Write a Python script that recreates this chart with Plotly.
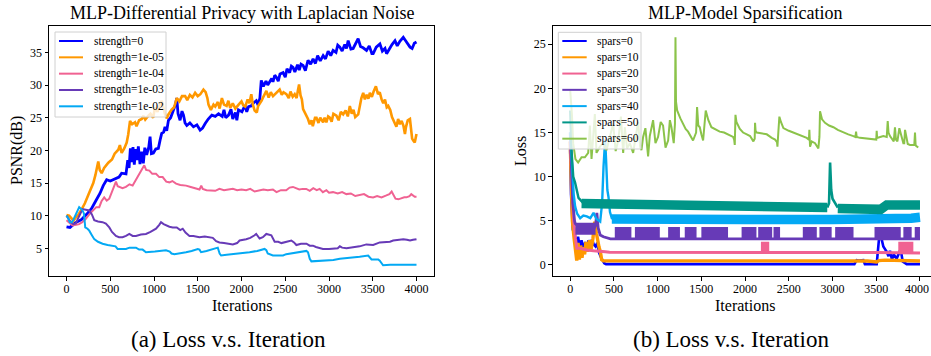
import plotly.graph_objects as go

# ---------------- Left panel data: PSNR(dB) vs Iterations ----------------
s0_x = [0,40,100,172,230,287,340,382,420,459,500,554,600,630,680,700,715,730,745,760,775,790,805,821,840,860,878,895,916,940,955,970,993,1020,1050,1070,1088,1110,1126,1145,1165,1190,1222,1245,1260,1275,1298,1320,1337,1355,1375,1410,1451,1490,1527,1555,1585,1620,1661,1700,1738,1780,1800,1820,1852,1880,1900,1930,1947,1965,2005,2040,2060,2081,2110,2140,2169,2190,2210,2226,2250,2280,2300,2322,2345,2360,2380,2398,2420,2440,2475,2500,2520,2550,2570,2589,2610,2640,2660,2680,2704,2730,2760,2790,2818,2845,2870,2900,2933,2960,2990,3020,3047,3080,3100,3124,3150,3180,3200,3219,3250,3276,3300,3333,3360,3390,3429,3460,3490,3505,3540,3582,3610,3640,3658,3690,3720,3754,3780,3810,3849,3870,3900,3926,3950,3975,4000]
s0_y = [8.3,8.2,8.9,9.4,10.2,11.1,12.4,13.4,14.6,15.5,15.3,15.6,15.9,16.5,16.4,18.5,17.3,20.3,18.2,20.5,17.8,20.2,18.5,20.6,17.9,19.8,18.0,20.4,19.3,20.5,22.1,19.5,19.6,20.2,20.3,21.6,22.6,22.8,23.6,23.0,24.6,25.0,26.2,27.0,28.0,25.6,24.6,26.0,25.4,24.2,23.8,24.2,23.6,23.9,23.1,23.4,24.1,24.8,25.4,25.2,25.6,25.2,26.2,25.0,25.4,26.3,24.8,25.8,24.6,26.2,25.9,26.9,25.9,26.7,26.8,27.3,27.6,26.9,28.0,30.7,29.8,30.6,30.0,30.4,31.0,30.5,31.5,31.2,30.6,31.7,31.9,31.2,32.5,31.9,32.9,32.7,32.0,33.1,32.3,33.2,33.0,32.2,33.8,33.2,34.0,33.3,34.5,33.7,34.5,34.0,35.2,34.5,35.3,35.0,36.1,35.8,35.2,36.2,35.6,36.8,35.5,35.6,36.3,37.1,35.9,35.7,35.3,36.0,34.8,34.8,35.8,36.3,35.2,35.6,34.8,35.6,36.2,36.8,36.0,36.7,37.3,36.9,36.4,35.8,35.6,36.4,36.6]

s1_x = [0,30,57,80,110,134,170,210,250,280,306,330,348,363,380,402,430,478,520,550,592,610,630,660,688,705,726,750,783,800,830,860,878,900,936,960,990,1012,1040,1060,1088,1100,1126,1145,1165,1200,1230,1260,1290,1320,1356,1380,1410,1440,1470,1500,1530,1565,1590,1610,1623,1650,1680,1700,1730,1750,1776,1800,1830,1850,1871,1900,1930,1967,2000,2020,2043,2070,2090,2112,2130,2150,2175,2190,2207,2230,2250,2284,2310,2335,2360,2390,2410,2436,2460,2480,2513,2540,2560,2585,2608,2630,2645,2658,2675,2690,2704,2720,2740,2760,2780,2800,2815,2840,2857,2880,2900,2933,2950,2970,2990,3009,3030,3050,3085,3110,3135,3162,3190,3215,3238,3260,3280,3300,3334,3350,3370,3391,3410,3430,3450,3467,3490,3510,3536,3560,3580,3601,3620,3640,3660,3677,3700,3720,3735,3754,3770,3790,3810,3830,3850,3868,3880,3900,3925,3940,3950,3963,3980,4000]
s1_y = [10.1,10.0,9.6,9.2,9.8,10.1,10.9,11.9,13.2,14.2,15.0,16.2,17.5,18.3,17.0,16.5,17.3,18.1,18.6,19.5,20.1,20.8,19.6,20.3,21.2,22.4,24.5,24.0,24.3,23.7,24.6,24.8,25.3,24.7,25.3,25.6,25.0,26.6,25.9,26.8,27.6,26.9,25.5,24.9,25.5,26.2,26.6,28.0,27.5,28.3,28.3,27.7,28.5,28.1,28.8,28.3,28.6,29.3,28.9,28.0,27.0,26.2,27.0,26.7,27.4,26.4,28.0,27.0,26.8,27.6,26.5,27.2,26.4,27.0,27.5,26.9,26.7,27.8,27.2,28.6,27.0,26.1,25.8,26.8,27.1,27.6,28.2,29.1,28.1,28.9,28.3,28.7,29.0,29.3,28.5,28.9,28.6,28.0,29.0,28.2,28.6,28.0,29.2,30.1,28.4,27.8,26.3,25.9,25.2,24.8,24.0,24.6,23.7,25.0,25.0,24.2,25.0,24.3,25.0,24.3,25.2,25.0,24.4,25.6,25.3,24.6,25.9,25.5,26.1,25.2,26.8,25.6,26.2,25.1,25.5,26.8,28.0,28.8,27.8,28.5,27.9,28.8,28.2,29.0,29.8,28.6,28.9,27.8,27.2,27.8,26.6,26.8,26.2,25.1,24.6,24.0,23.6,24.8,24.0,24.5,23.8,22.5,23.6,24.6,24.8,23.0,21.8,21.5,21.2,22.5]

s2_x = [0,40,69,110,145,180,221,260,298,340,374,400,431,460,489,510,527,550,565,585,603,640,679,720,756,790,832,860,889,910,947,980,1023,1060,1099,1140,1176,1210,1252,1300,1366,1420,1481,1520,1540,1557,1600,1634,1700,1748,1800,1850,1901,1950,2000,2053,2100,2150,2206,2250,2300,2359,2400,2450,2511,2550,2588,2620,2660,2700,2740,2780,2820,2860,2893,2930,2970,3000,3046,3100,3150,3198,3250,3300,3351,3400,3450,3504,3550,3600,3656,3690,3716,3740,3760,3792,3830,3860,3885,3920,3940,3962,3980,4000]
s2_y = [9.3,8.9,8.5,8.6,8.7,9.0,9.5,10.2,10.8,11.3,11.3,12.2,12.8,12.3,12.6,13.3,13.9,14.8,15.2,14.5,14.4,14.2,14.4,14.8,14.6,15.4,16.4,16.9,17.7,17.0,16.9,16.4,16.4,15.9,15.9,15.2,15.1,15.3,14.9,14.7,14.6,14.4,14.1,14.0,14.6,14.1,13.9,13.9,13.8,14.1,13.9,14.0,14.1,13.9,14.0,13.9,14.1,13.7,13.9,14.0,13.9,14.0,13.6,13.9,13.9,14.3,14.4,14.2,14.0,14.1,14.1,13.8,14.2,13.9,14.1,13.6,13.9,13.5,13.6,13.4,13.6,13.3,13.4,13.0,13.1,13.3,12.9,12.8,13.0,12.8,13.1,13.3,13.7,13.0,12.6,12.5,12.7,12.8,12.8,13.0,13.3,13.1,12.9,12.9]

s3_x = [0,25,50,80,107,140,183,220,260,290,317,360,412,450,489,520,565,600,641,680,718,756,794,850,908,960,1023,1060,1080,1110,1137,1176,1214,1260,1300,1328,1360,1405,1450,1519,1580,1640,1672,1710,1748,1800,1850,1901,1950,1978,2053,2100,2150,2168,2207,2244,2284,2321,2341,2379,2420,2456,2500,2540,2570,2600,2627,2680,2742,2780,2817,2850,2895,2931,3000,3046,3100,3124,3150,3200,3275,3350,3427,3505,3580,3650,3697,3733,3800,3849,3890,3926,3960,4000]
s3_y = [10.0,9.4,9.0,8.7,8.8,9.8,11.0,10.9,10.8,10.2,9.3,9.1,9.0,8.8,8.2,7.5,6.9,6.7,6.7,6.9,7.2,6.9,6.9,7.1,7.2,7.5,8.0,8.6,9.0,8.7,8.5,8.3,8.2,8.2,7.8,8.0,7.4,6.9,6.9,6.7,6.8,6.7,6.6,6.1,5.9,5.8,5.7,5.6,5.8,6.2,6.4,6.6,7.0,7.2,6.5,6.7,7.2,7.1,7.0,6.0,6.0,5.8,6.0,6.1,6.2,5.9,5.5,5.7,5.7,5.4,5.4,5.2,5.0,4.9,4.9,4.9,5.0,5.3,5.1,5.0,5.1,5.3,5.6,5.5,5.9,6.0,6.0,6.2,6.3,6.4,6.3,6.2,6.3,6.4]

s4_x = [0,20,38,60,76,110,145,170,183,200,214,240,260,290,317,360,412,470,527,560,584,630,679,720,760,794,830,870,908,960,1010,1061,1100,1137,1180,1200,1233,1300,1366,1430,1500,1520,1538,1600,1650,1700,1729,1750,1767,1830,1901,2000,2092,2180,2263,2284,2300,2359,2420,2475,2511,2600,2664,2700,2742,2760,2780,2799,2900,2969,3050,3124,3237,3350,3448,3470,3486,3520,3563,3580,3601,3618,3700,3809,3900,4000]
s4_y = [10.0,9.6,9.0,9.0,9.3,10.2,11.3,11.0,10.8,10.3,8.2,8.0,7.7,7.0,6.4,6.0,5.7,5.5,5.4,5.3,4.9,4.9,4.9,5.1,5.1,5.1,4.8,4.8,4.4,4.4,4.5,4.6,4.6,4.7,4.5,4.2,4.1,4.2,4.4,4.6,4.9,4.8,4.4,4.6,4.8,5.0,5.1,4.2,3.9,4.0,4.1,4.2,4.4,4.6,4.9,4.7,4.2,3.9,3.9,3.9,4.1,4.3,4.4,4.5,4.6,4.4,3.4,3.0,3.1,3.1,3.2,3.4,3.5,3.7,3.9,3.6,3.3,3.3,3.3,3.1,2.6,2.4,2.5,2.5,2.5,2.5]

left_names = ["strength=0", "strength=1e-05", "strength=1e-04", "strength=1e-03", "strength=1e-02"]
left_colors = ["#0000FF", "#FF9800", "#F06292", "#673AB7", "#03A9F4"]
left_widths = [2.8, 2.6, 2.0, 2.0, 2.0]
left_series = [(s0_x, s0_y), (s1_x, s1_y), (s2_x, s2_y), (s3_x, s3_y), (s4_x, s4_y)]

# ---------------- Right panel data: Loss vs Iterations ----------------
p0_x = [0,10,30,50,70,90,110,130,150,170,190,210,230,250,270,290,310,330,350,370,390,410,430,500,1000,1500,2000,2500,3000,3250,3276,3300,3352,3370,3505,3520,3543,3560,3581,3600,3619,3640,3657,3680,3700,3733,3760,3779,3802,3848,3900,4000]
p0_y = [13,8,4,3.6,2.2,3.2,2.0,2.8,1.5,2.6,1.8,2.8,2.2,2.9,2.3,2.1,2.5,1.4,0.9,0.6,0.2,0.1,0.1,0.1,0.08,0.1,0.08,0.1,0.08,0.1,0.55,0.5,0.55,0.1,0.1,2.0,4.2,3.0,2.1,1.8,1.5,1.0,1.6,0.6,1.2,0.7,1.4,1.8,0.4,0.1,0.1,0.1]

p1_x = [0,10,25,45,60,75,90,105,120,135,150,165,180,200,220,240,260,280,300,315,330,345,360,380,400,500,1000,1500,2000,2500,3000,3400,3505,3530,3600,4000]
p1_y = [14,9,5,3,1.5,0.5,2.5,0.6,2.2,0.8,2.0,1.2,2.6,1.5,2.8,1.8,3.0,4.9,3.6,2.5,2.0,1.5,0.6,0.47,0.47,0.47,0.5,0.47,0.5,0.47,0.47,0.45,0.35,0.5,0.55,0.45]

p2_x = [0,20,40,60,76,114,190,267,343,400,450,1000,2000,3000,3500,4000]
p2_y = [14,9,5,3,1.9,1.9,1.7,1.6,1.5,1.5,1.45,1.45,1.45,1.45,1.4,1.35]
p2_blk_start = [2181, 3752]
p2_blk_end = [2276, 3924]
p2_blk_level = [2.0, 2.0]

p3_x = [0,15,30,50,57,100,150,200,267,290,305,320,343,380,420,460,500,4000]
p3_y = [15,11,7,5,4.7,4.3,4.2,4.0,4.0,4.5,5.9,4.2,3.4,3.2,3.1,2.95,2.95,2.95]
p3_blk_start = [60, 510, 740, 1120, 1310, 1500, 1960, 2150, 2325, 2660, 2850, 3030, 3480, 3810, 3940]
p3_blk_end = [290, 700, 1025, 1255, 1445, 1805, 2130, 2310, 2400, 2820, 2990, 3240, 3780, 3905, 4000]
p3_blk_level = [4.1, 3.62, 3.62, 3.62, 3.62, 3.62, 3.62, 3.62, 3.62, 3.62, 3.62, 3.62, 3.62, 3.62, 3.62]

p4_x = [0,20,40,57,80,114,150,190,230,267,300,343,365,381,392,400,410,425,438,455,476,520]
p4_y = [15,11,8,6.6,5.8,5.3,5.6,5.5,5.3,5.9,5.2,4.9,7,11.1,13.5,14.2,12,8.5,7.7,6,5.3,5.2]
p4_band_x = [476,1000,2000,3000,3600,3900,4000]
p4_band_y = [5.2,5.1,5.15,5.15,5.1,5.3,5.4]

p5_x = [0,15,35,57,95,150]
p5_y = [17.5,13,10,9.3,7.6,7.0]
p5_spike_x = [2940,2960,2972,2985,3000,3030,3060]
p5_spike_y = [6.5,7.0,11.6,8.5,7.5,7.0,6.5]
p5_band_x = [130,400,1000,2000,2940,None,3060,3300,3550,3620,4000]
p5_band_y = [6.95,6.9,6.8,6.7,6.5,None,6.4,6.3,6.3,6.8,6.8]

p6_x = [0,20,34,60,91,130,168,206,225,244,282,301,340,377,415,450,491,520,549,580,606,625,650,682,720,750,777,800,815,834,860,891,910,948,975,1005,1035,1062,1090,1120,1140,1158,1184,1198,1204,1210,1223,1260,1291,1320,1348,1380,1405,1440,1451,1465,1482,1500,1520,1550,1580,1615,1660,1710,1760,1825,1863,1875,1882,1890,1901,1940,1977,2020,2057,2095,2110,2114,2120,2133,2180,2248,2305,2343,2365,2370,2380,2392,2410,2438,2500,2552,2610,2660,2705,2730,2735,2743,2762,2800,2838,2850,2857,2880,2914,2960,3010,3060,3124,3180,3238,3262,3269,3276,3314,3400,3467,3500,3505,3510,3545,3581,3620,3631,3640,3657,3700,3714,3725,3733,3742,3764,3800,3810,3820,3829,3860,3886,3935,3943,3950,3955,3980,4000]
p6_y = [19.8,17.0,13.8,12.0,11.6,12.2,12.2,12.7,15.8,12.0,17.1,12.7,13.4,13.8,13.0,14.5,16.0,12.9,14.1,16.8,12.7,15.6,13.2,13.8,12.7,14.6,16.2,13.4,13.0,14.5,15.5,12.3,14.6,16.4,13.8,14.5,16.2,15.8,13.3,14.1,16.4,15.6,13.8,16.0,25.8,18.5,17.5,16.6,16.0,15.4,15.1,14.6,14.1,15.0,17.9,15.8,15.6,14.8,14.1,17.5,16.4,15.6,15.4,15.1,15.0,14.7,14.5,14.2,13.6,17.0,16.2,15.4,15.0,14.8,14.6,14.0,14.3,16.1,15.2,15.0,14.9,14.8,14.4,14.2,13.9,13.4,15.0,16.8,16.2,15.5,15.2,15.0,14.8,14.6,14.4,14.2,15.3,13.4,14.0,13.8,13.2,14.5,17.4,16.5,16.1,15.8,15.6,15.3,15.0,14.8,14.6,14.5,15.1,14.5,14.4,14.3,14.2,14.2,15.2,14.4,14.5,14.6,14.5,16.3,15.0,14.6,14.0,15.6,14.2,14.0,14.0,15.5,13.9,13.8,13.8,15.3,13.7,13.6,13.6,15.0,13.6,13.5,13.3]

right_names = ["spars=0", "spars=10", "spars=20", "spars=30", "spars=40", "spars=50", "spars=60"]
right_colors = ["#0000FF", "#FF9800", "#F06292", "#673AB7", "#03A9F4", "#009688", "#8BC34A"]

x_ticks = [0, 500, 1000, 1500, 2000, 2500, 3000, 3500, 4000]
left_y_ticks = [5, 10, 15, 20, 25, 30, 35]
right_y_ticks = [0, 5, 10, 15, 20, 25]

# ---------------- Figure ----------------
W, H = 931, 356
FONT = "Liberation Serif, Times New Roman, serif"

def fx(px):
    return px / W

def fy(py):
    return 1 - py / H

def blocks(starts, ends, levels):
    xs, ys = [], []
    for s, e, l in zip(starts, ends, levels):
        xs += [s, e, None]
        ys += [l, l, None]
    return xs, ys

fig = go.Figure()

for (xs, ys), c, w in zip(left_series, left_colors, left_widths):
    fig.add_trace(go.Scatter(x=xs, y=ys, mode="lines", line=dict(color=c, width=w),
                             xaxis="x", yaxis="y", showlegend=False, hoverinfo="skip"))

def rtrace(xs, ys, color, width):
    fig.add_trace(go.Scatter(x=xs, y=ys, mode="lines", line=dict(color=color, width=width),
                             xaxis="x2", yaxis="y2", showlegend=False, hoverinfo="skip",
                             connectgaps=False))

rtrace(p0_x, p0_y, right_colors[0], 2.6)
rtrace(p1_x, p1_y, right_colors[1], 3.4)
rtrace(p2_x, p2_y, right_colors[2], 3.0)
bx, by = blocks(p2_blk_start, p2_blk_end, p2_blk_level)
rtrace(bx, by, right_colors[2], 11)
rtrace(p3_x, p3_y, right_colors[3], 2.8)
bx, by = blocks(p3_blk_start, p3_blk_end, p3_blk_level)
rtrace(bx, by, right_colors[3], 12)
rtrace(p4_x, p4_y, right_colors[4], 2.4)
rtrace(p4_band_x, p4_band_y, right_colors[4], 9.5)
rtrace(p5_x, p5_y, right_colors[5], 2.4)
rtrace(p5_band_x, p5_band_y, right_colors[5], 9.5)
rtrace(p5_spike_x, p5_spike_y, right_colors[5], 2.6)
rtrace(p6_x, p6_y, right_colors[6], 2.0)

# axes geometry (pixels)
L_X0, L_X1 = 49, 434
R_X0, R_X1 = 552.7, 931
Y0, Y1 = 26, 276

tickfont = dict(family=FONT, size=12, color="black")
axis_common = dict(showgrid=False, zeroline=False, showline=True, linecolor="black", linewidth=1,
                   ticks="outside", ticklen=3.5, tickwidth=1, tickcolor="black", tickfont=tickfont)

# right x axis: the last label sits at the page edge, drawn as a right-anchored annotation
right_ticktext = [str(v) for v in x_ticks[:-1]] + [""]

fig.update_layout(
    width=W, height=H, margin=dict(l=0, r=0, t=0, b=0),
    paper_bgcolor="white", plot_bgcolor="white", showlegend=False,
    xaxis=dict(domain=[fx(L_X0), fx(L_X1)], range=[-200, 4200], tickvals=x_ticks, mirror=True,
               anchor="y", ticklabelstandoff=-2, **axis_common),
    yaxis=dict(domain=[fy(Y1), fy(Y0)], range=[0.76, 39.04], tickvals=left_y_ticks, mirror=True,
               anchor="x", **axis_common),
    xaxis2=dict(domain=[fx(R_X0), 1.0], range=[-200, 4126], tickvals=x_ticks, ticktext=right_ticktext,
                mirror=True, anchor="y2", ticklabelstandoff=-2, **axis_common),
    yaxis2=dict(domain=[fy(Y1), fy(Y0)], range=[-1.25, 27.07], tickvals=right_y_ticks, mirror=False,
                anchor="x2", **axis_common),
)

shapes = []
annotations = []

annotations.append(dict(text=str(x_ticks[-1]), xref="paper", yref="paper", x=1.0, y=fy(289),
                        xanchor="right", yanchor="middle", showarrow=False, font=tickfont))

def legend(box, line_x0, line_x1, text_x, row_y0, step, names, colors):
    x0, y0, x1, y1 = box
    shapes.append(dict(type="rect", xref="paper", yref="paper", x0=fx(x0), x1=fx(x1), y0=fy(y1), y1=fy(y0),
                       line=dict(color="#d0d0d0", width=1), fillcolor="rgba(255,255,255,0.8)", layer="above"))
    for i, (n, c) in enumerate(zip(names, colors)):
        yy = row_y0 + i * step
        shapes.append(dict(type="line", xref="paper", yref="paper", x0=fx(line_x0), x1=fx(line_x1),
                           y0=fy(yy), y1=fy(yy), line=dict(color=c, width=2), layer="above"))
        annotations.append(dict(text=n, xref="paper", yref="paper", x=fx(text_x), y=fy(yy),
                                xanchor="left", yanchor="middle", showarrow=False,
                                font=dict(family=FONT, size=11.5, color="black")))

legend((55, 32, 166, 117), 59, 83, 91.5, 41, 16.33, left_names, left_colors)
legend((558.3, 32.3, 641, 149), 562.3, 586.7, 594.5, 41, 16.28, right_names, right_colors)

def text(t, px, py, size, angle=0):
    annotations.append(dict(text=t, xref="paper", yref="paper", x=fx(px), y=fy(py), xanchor="center",
                            yanchor="middle", showarrow=False, textangle=angle,
                            font=dict(family=FONT, size=size, color="black")))

text("MLP-Differential Privacy with Laplacian Noise", 242, 13, 18)
text("MLP-Model Sparsification", 745, 13, 18)
text("PSNR(dB)", 17, 151, 16, -90)
text("Loss", 520, 151, 16, -90)
text("Iterations", 241.5, 305, 16)
text("Iterations", 745, 305, 16)
text("(a) Loss v.s. Iteration", 228.5, 339, 23)
text("(b) Loss v.s. Iteration", 731, 339, 23)

fig.update_layout(shapes=shapes, annotations=annotations)
fig.write_html("out.html")
